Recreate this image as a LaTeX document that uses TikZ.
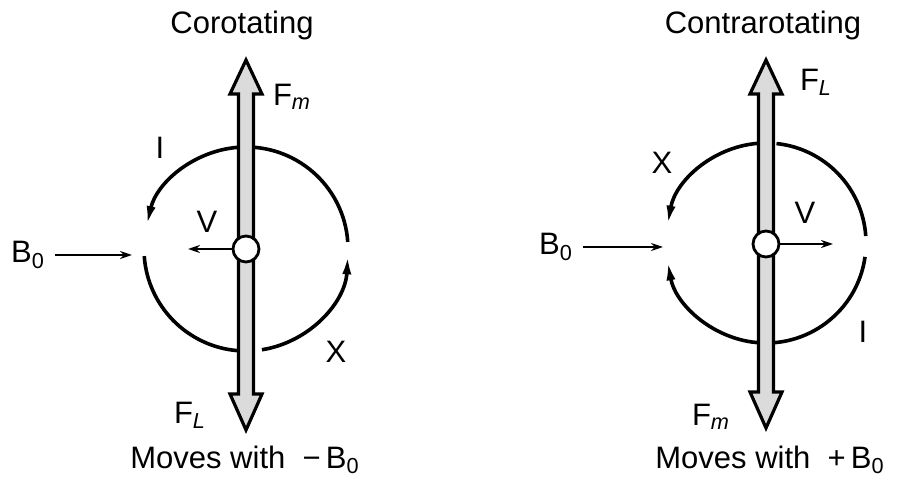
\documentclass[tikz,border=0pt]{standalone}
\usepackage{fontspec}
\setmainfont{Liberation Sans}
\usetikzlibrary{arrows.meta,positioning,calc}
\definecolor{stipple}{gray}{0.86}

\begin{document}
\begin{tikzpicture}[
    x=0.5pt,y=0.5pt,
    every node/.style={font=\fontsize{15.5}{18}\selectfont,inner sep=1pt},
    loopline/.style={line width=1.8pt},
    loopend/.style={loopline,-{Latex[length=10pt,width=4.5pt]}},
    bar/.style={draw,line width=1.6pt,fill=stipple,line join=miter},
    ion/.style={circle,draw,line width=1.4pt,fill=white,minimum size=13pt,inner sep=0pt},
    vel/.style={-{Stealth[length=6pt,width=4pt]},line width=1.1pt},
    field/.style={-{Stealth[length=6pt,width=4pt]},line width=1.2pt,shorten <=4pt}
]
\useasboundingbox (0,0) rectangle (897,486);

% corotating
\coordinate (cL) at (246,237);
\draw[loopend] ([shift={(4:102)}]cL) arc[start angle=4,end angle=167,radius=102];
\draw[loopline] ([shift={(184:102)}]cL) arc[start angle=184,end angle=265,radius=102];
\draw[loopend] ([shift={(279:102)}]cL) arc[start angle=279,end angle=357,radius=102];
\draw[bar] (246,426) -- ++(16,-34) -- ++(-8.5,0) -- ++(0,-300) -- ++(8.5,0) -- ++(-16,-36)
    -- ++(-16,36) -- ++(8.5,0) -- ++(0,300) -- ++(-8.5,0) -- cycle;
\node[ion] (ionL) at (cL) {};
\coordinate (vL) at (188,237);
\draw[vel] (ionL) -- (vL);
\node (b0L) at (28,231) {B\textsubscript{0}};
\coordinate (b0Lend) at (132,231);
\draw[field] (b0L) -- (b0Lend);

\node (titleL) at (242,461) {Corotating};
\node (fmL) at (292,389) {F\textsubscript{\itshape m}};
\node (iL) at (160,338) {I};
\node (vlabL) at (207,264) {V};
\node (xL) at (336,134) {X};
\node (flL) at (190,71) {F\textsubscript{\itshape L}};
\node (movL) at (245,26) {Moves with~ −\,B\textsubscript{0}};

% contrarotating
\coordinate (cR) at (766,243);
\draw[loopline] ([shift={(84:100)}]cR) arc[start angle=84,end angle=4,radius=100];
\draw[loopend] ([shift={(-8:100)}]cR) arc[start angle=-8,end angle=-170,radius=100];
\draw[loopend] ([shift={(95:100)}]cR) arc[start angle=95,end angle=170,radius=100];
\draw[bar] (766,426) -- ++(16,-34) -- ++(-8.5,0) -- ++(0,-298) -- ++(8.5,0) -- ++(-16,-36)
    -- ++(-16,36) -- ++(8.5,0) -- ++(0,298) -- ++(-8.5,0) -- cycle;
\node[ion] (ionR) at (766,242) {};
\coordinate (vR) at (833,242);
\draw[vel] (ionR) -- (vR);
\node (b0R) at (556,239) {B\textsubscript{0}};
\coordinate (b0Rend) at (663,239);
\draw[field] (b0R) -- (b0Rend);

\node (titleR) at (763,461) {Contrarotating};
\node (flR) at (816,404) {F\textsubscript{\itshape L}};
\node (xR) at (662,323) {X};
\node (vlabR) at (805,273) {V};
\node (iR) at (863,154) {I};
\node (fmR) at (711,69) {F\textsubscript{\itshape m}};
\node (movR) at (770,26) {Moves with~ +\,B\textsubscript{0}};
\end{tikzpicture}
\end{document}
